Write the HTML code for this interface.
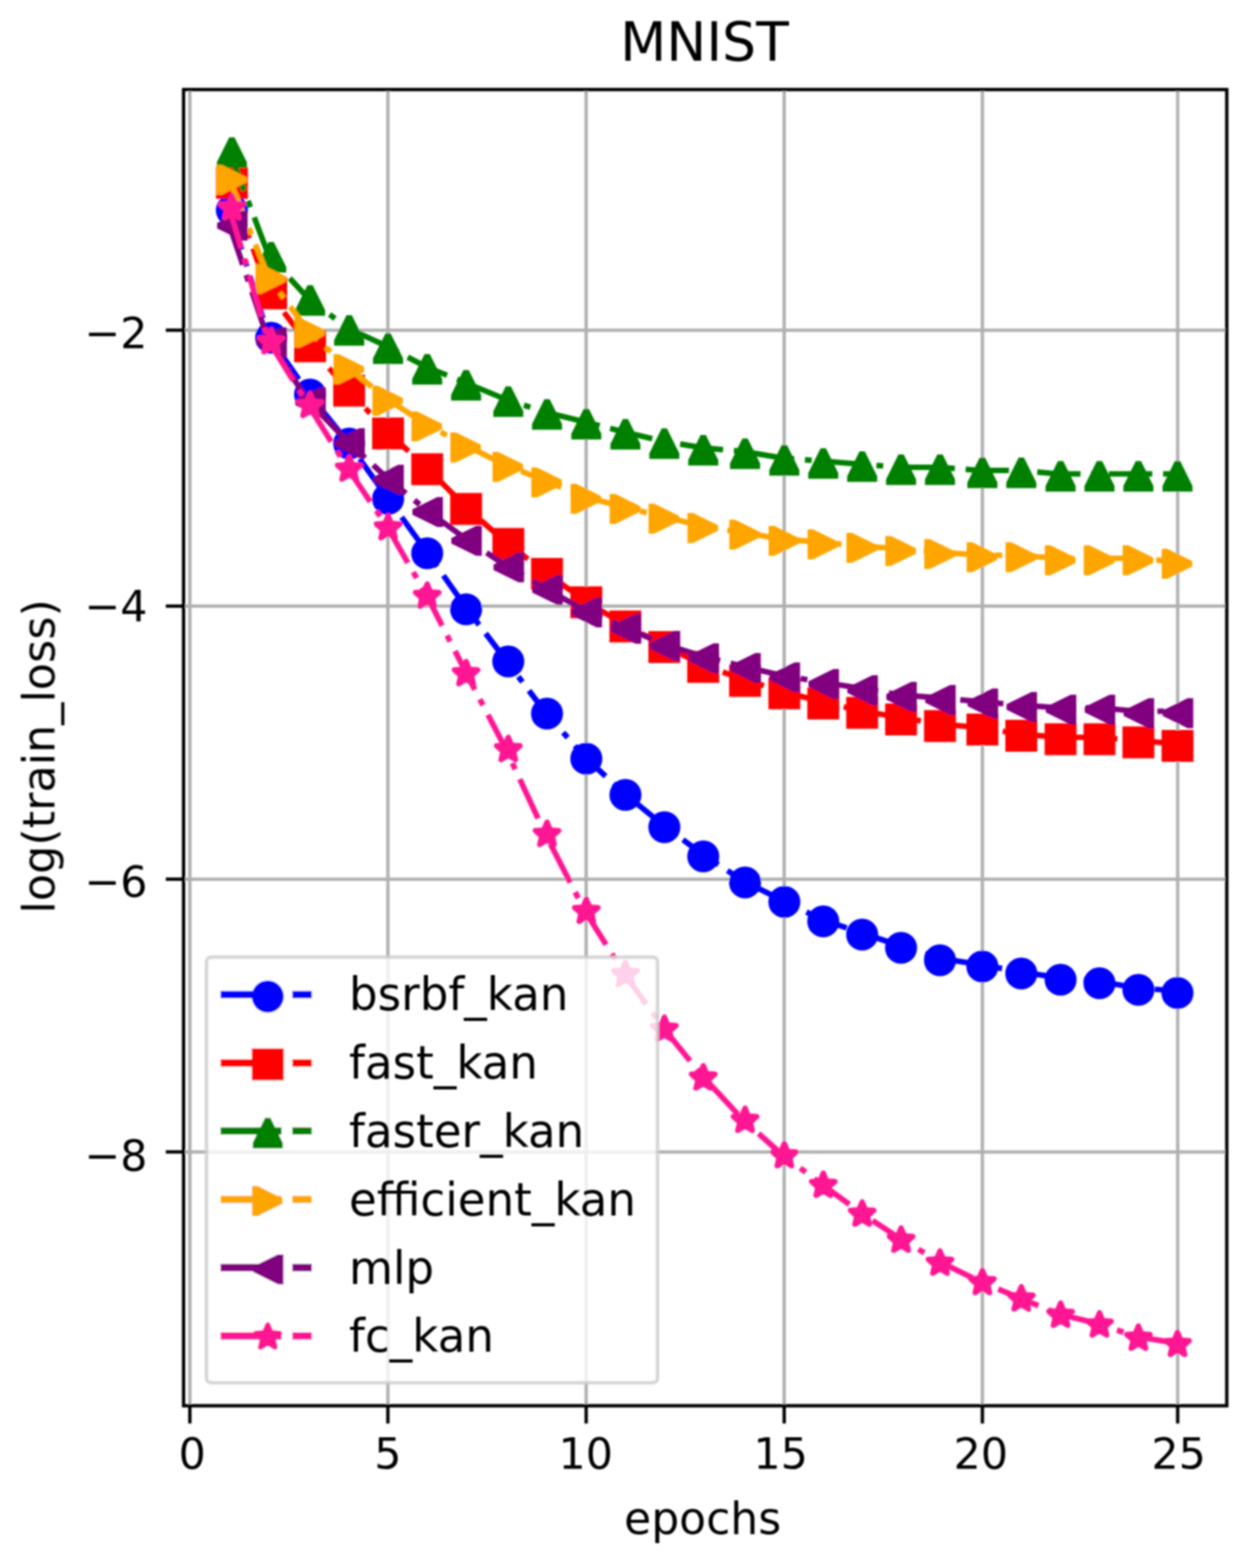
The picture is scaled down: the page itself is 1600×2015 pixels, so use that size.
<!DOCTYPE html>
<html lang="en">
<head>
<meta charset="utf-8">
<title>MNIST</title>
<style>
html,body{margin:0;padding:0;background:#fff;}
body{width:1600px;height:2015px;overflow:hidden;}
svg{display:block;}
text{font-family:"DejaVu Sans","Liberation Sans",sans-serif;fill:#000;}
.tk{font-size:55px;}
.al{font-size:56.6px;}
.yl{font-size:57.2px;}
.lg{font-size:58px;}
.ti{font-size:68.8px;}
</style>
</head>
<body>
<svg width="1600" height="2015" viewBox="0 0 1600 2015">
<defs>
<filter id="soft" x="-2%" y="-2%" width="104%" height="104%"><feGaussianBlur stdDeviation="1.1"/></filter>
<clipPath id="ax"><rect x="235.9" y="115.1" width="1340.7" height="1691.4"/></clipPath>
</defs>
<rect width="1600" height="2015" fill="#fff"/>
<g filter="url(#soft)">
<g stroke="#b0b0b0" stroke-width="4.3" fill="none">
<line x1="244" y1="115.1" x2="244" y2="1806.5"/>
<line x1="498.5" y1="115.1" x2="498.5" y2="1806.5"/>
<line x1="753.3" y1="115.1" x2="753.3" y2="1806.5"/>
<line x1="1007.8" y1="115.1" x2="1007.8" y2="1806.5"/>
<line x1="1262.5" y1="115.1" x2="1262.5" y2="1806.5"/>
<line x1="1513.5" y1="115.1" x2="1513.5" y2="1806.5"/>
<line x1="235.9" y1="424.3" x2="1576.6" y2="424.3"/>
<line x1="235.9" y1="778.9" x2="1576.6" y2="778.9"/>
<line x1="235.9" y1="1129.8" x2="1576.6" y2="1129.8"/>
<line x1="235.9" y1="1480.3" x2="1576.6" y2="1480.3"/>
</g>
<g clip-path="url(#ax)">
<polyline points="294.2,267.5 344.9,431.5 395.7,504.5 446.4,567.5 497.2,638.5 548,708.5 598.7,780.5 649.5,847.5 700.2,914.5 751,972.5 801.8,1019 852.5,1060.5 903.3,1098 954,1131.5 1004.8,1156.5 1055.6,1181.5 1106.3,1198.5 1157.1,1215.5 1207.8,1231.5 1258.6,1239.5 1309.4,1248.5 1360.1,1256.5 1410.9,1261 1461.6,1269.5 1512.4,1273.5" fill="none" stroke="#0000ff" stroke-width="7.2" stroke-dasharray="55.7 13.9 8.7 13.9" stroke-linejoin="round"/>
<g>
<circle cx="298" cy="270" r="20.6" fill="#0000ff"/>
<circle cx="348.5" cy="434" r="20.6" fill="#0000ff"/>
<circle cx="398.5" cy="507" r="20.6" fill="#0000ff"/>
<circle cx="448.8" cy="570" r="20.6" fill="#0000ff"/>
<circle cx="498.8" cy="641" r="20.6" fill="#0000ff"/>
<circle cx="549" cy="711" r="20.6" fill="#0000ff"/>
<circle cx="599" cy="783" r="20.6" fill="#0000ff"/>
<circle cx="653.2" cy="850" r="20.6" fill="#0000ff"/>
<circle cx="703" cy="917" r="20.6" fill="#0000ff"/>
<circle cx="753.5" cy="975" r="20.6" fill="#0000ff"/>
<circle cx="803.8" cy="1021.5" r="20.6" fill="#0000ff"/>
<circle cx="853.8" cy="1063" r="20.6" fill="#0000ff"/>
<circle cx="903.8" cy="1100.5" r="20.6" fill="#0000ff"/>
<circle cx="957.5" cy="1134" r="20.6" fill="#0000ff"/>
<circle cx="1008" cy="1159" r="20.6" fill="#0000ff"/>
<circle cx="1058" cy="1184" r="20.6" fill="#0000ff"/>
<circle cx="1108" cy="1201" r="20.6" fill="#0000ff"/>
<circle cx="1158" cy="1218" r="20.6" fill="#0000ff"/>
<circle cx="1208" cy="1234" r="20.6" fill="#0000ff"/>
<circle cx="1262.5" cy="1242" r="20.6" fill="#0000ff"/>
<circle cx="1312.5" cy="1251" r="20.6" fill="#0000ff"/>
<circle cx="1363" cy="1259" r="20.6" fill="#0000ff"/>
<circle cx="1413" cy="1263.5" r="20.6" fill="#0000ff"/>
<circle cx="1463" cy="1272" r="20.6" fill="#0000ff"/>
<circle cx="1513.2" cy="1276" r="20.6" fill="#0000ff"/>
</g>
<polyline points="294.2,232.5 344.9,374.5 395.7,442.5 446.4,499.5 497.2,554.5 548,600.5 598.7,651.5 649.5,696.5 700.2,735 751,771.5 801.8,802.5 852.5,829 903.3,854.5 954,872.5 1004.8,888.5 1055.6,901.5 1106.3,913.5 1157.1,922 1207.8,930.5 1258.6,935 1309.4,943 1360.1,947.5 1410.9,947.5 1461.6,951.5 1512.4,956" fill="none" stroke="#ff0000" stroke-width="7.2" stroke-dasharray="55.7 13.9 8.7 13.9" stroke-linejoin="round"/>
<g>
<rect x="277.5" y="214.5" width="41" height="41" fill="#ff0000"/>
<rect x="328" y="356.5" width="41" height="41" fill="#ff0000"/>
<rect x="378" y="424.5" width="41" height="41" fill="#ff0000"/>
<rect x="428.2" y="481.5" width="41" height="41" fill="#ff0000"/>
<rect x="478.2" y="536.5" width="41" height="41" fill="#ff0000"/>
<rect x="528.5" y="582.5" width="41" height="41" fill="#ff0000"/>
<rect x="578.5" y="633.5" width="41" height="41" fill="#ff0000"/>
<rect x="632.8" y="678.5" width="41" height="41" fill="#ff0000"/>
<rect x="682.5" y="717" width="41" height="41" fill="#ff0000"/>
<rect x="733" y="753.5" width="41" height="41" fill="#ff0000"/>
<rect x="783.2" y="784.5" width="41" height="41" fill="#ff0000"/>
<rect x="833.2" y="811" width="41" height="41" fill="#ff0000"/>
<rect x="883.2" y="836.5" width="41" height="41" fill="#ff0000"/>
<rect x="937" y="854.5" width="41" height="41" fill="#ff0000"/>
<rect x="987.5" y="870.5" width="41" height="41" fill="#ff0000"/>
<rect x="1037.5" y="883.5" width="41" height="41" fill="#ff0000"/>
<rect x="1087.5" y="895.5" width="41" height="41" fill="#ff0000"/>
<rect x="1137.5" y="904" width="41" height="41" fill="#ff0000"/>
<rect x="1187.5" y="912.5" width="41" height="41" fill="#ff0000"/>
<rect x="1242" y="917" width="41" height="41" fill="#ff0000"/>
<rect x="1292" y="925" width="41" height="41" fill="#ff0000"/>
<rect x="1342.5" y="929.5" width="41" height="41" fill="#ff0000"/>
<rect x="1392.5" y="929.5" width="41" height="41" fill="#ff0000"/>
<rect x="1442.5" y="933.5" width="41" height="41" fill="#ff0000"/>
<rect x="1492.8" y="938" width="41" height="41" fill="#ff0000"/>
</g>
<polyline points="294.2,193 344.9,327.5 395.7,383 446.4,421.5 497.2,445 548,471.5 598.7,492 649.5,513 700.2,529.5 751,542 801.8,555 852.5,567 903.3,575.5 954,580 1004.8,588.5 1055.6,592.5 1106.3,596.5 1157.1,600.5 1207.8,600.5 1258.6,604.5 1309.4,604.5 1360.1,609 1410.9,609 1461.6,609 1512.4,609" fill="none" stroke="#008000" stroke-width="7.2" stroke-dasharray="55.7 13.9 8.7 13.9" stroke-linejoin="round"/>
<g>
<polygon points="294.6,176.5 301.4,176.5 317.3,208.5 317.3,215.7 278.7,215.7 278.7,208.5" fill="#008000"/>
<polygon points="345.1,311 351.9,311 367.8,343 367.8,350.2 329.2,350.2 329.2,343" fill="#008000"/>
<polygon points="395.1,366.5 401.9,366.5 417.8,398.5 417.8,405.7 379.2,405.7 379.2,398.5" fill="#008000"/>
<polygon points="445.4,405 452.1,405 468.1,437 468.1,444.2 429.4,444.2 429.4,437" fill="#008000"/>
<polygon points="495.4,428.5 502.1,428.5 518,460.5 518,467.7 479.4,467.7 479.4,460.5" fill="#008000"/>
<polygon points="545.6,455 552.4,455 568.3,487 568.3,494.2 529.7,494.2 529.7,487" fill="#008000"/>
<polygon points="595.6,475.5 602.4,475.5 618.3,507.5 618.3,514.7 579.7,514.7 579.7,507.5" fill="#008000"/>
<polygon points="649.9,496.5 656.6,496.5 672.5,528.5 672.5,535.7 634,535.7 634,528.5" fill="#008000"/>
<polygon points="699.6,513 706.4,513 722.3,545 722.3,552.2 683.7,552.2 683.7,545" fill="#008000"/>
<polygon points="750.1,525.5 756.9,525.5 772.8,557.5 772.8,564.7 734.2,564.7 734.2,557.5" fill="#008000"/>
<polygon points="800.4,538.5 807.1,538.5 823,570.5 823,577.7 784.5,577.7 784.5,570.5" fill="#008000"/>
<polygon points="850.4,550.5 857.1,550.5 873,582.5 873,589.7 834.5,589.7 834.5,582.5" fill="#008000"/>
<polygon points="900.4,559 907.1,559 923,591 923,598.2 884.5,598.2 884.5,591" fill="#008000"/>
<polygon points="954.1,563.5 960.9,563.5 976.8,595.5 976.8,602.7 938.2,602.7 938.2,595.5" fill="#008000"/>
<polygon points="1004.6,572 1011.4,572 1027.3,604 1027.3,611.2 988.7,611.2 988.7,604" fill="#008000"/>
<polygon points="1054.6,576 1061.4,576 1077.3,608 1077.3,615.2 1038.7,615.2 1038.7,608" fill="#008000"/>
<polygon points="1104.6,580 1111.4,580 1127.3,612 1127.3,619.2 1088.7,619.2 1088.7,612" fill="#008000"/>
<polygon points="1154.6,584 1161.4,584 1177.3,616 1177.3,623.2 1138.7,623.2 1138.7,616" fill="#008000"/>
<polygon points="1204.6,584 1211.4,584 1227.3,616 1227.3,623.2 1188.7,623.2 1188.7,616" fill="#008000"/>
<polygon points="1259.1,588 1265.9,588 1281.8,620 1281.8,627.2 1243.2,627.2 1243.2,620" fill="#008000"/>
<polygon points="1309.1,588 1315.9,588 1331.8,620 1331.8,627.2 1293.2,627.2 1293.2,620" fill="#008000"/>
<polygon points="1359.6,592.5 1366.4,592.5 1382.3,624.5 1382.3,631.7 1343.7,631.7 1343.7,624.5" fill="#008000"/>
<polygon points="1409.6,592.5 1416.4,592.5 1432.3,624.5 1432.3,631.7 1393.7,631.7 1393.7,624.5" fill="#008000"/>
<polygon points="1459.6,592.5 1466.4,592.5 1482.3,624.5 1482.3,631.7 1443.7,631.7 1443.7,624.5" fill="#008000"/>
<polygon points="1509.8,592.5 1516.7,592.5 1532.5,624.5 1532.5,631.7 1494,631.7 1494,624.5" fill="#008000"/>
</g>
<polyline points="294.2,228.5 344.9,356 395.7,425 446.4,472 497.2,512.5 548,545.5 598.7,572.5 649.5,597.5 700.2,617.5 751,638.5 801.8,651.5 852.5,664 903.3,676 954,684.5 1004.8,692.5 1055.6,697 1106.3,701.5 1157.1,705.5 1207.8,709.5 1258.6,713.5 1309.4,713.5 1360.1,717.5 1410.9,717.5 1461.6,717.5 1512.4,722" fill="none" stroke="#ffa500" stroke-width="7.2" stroke-dasharray="55.7 13.9 8.7 13.9" stroke-linejoin="round"/>
<g>
<polygon points="317,227.6 317,234.4 285,250.3 277.8,250.3 277.8,211.7 285,211.7" fill="#ffa500"/>
<polygon points="367.5,355.1 367.5,361.9 335.5,377.8 328.3,377.8 328.3,339.2 335.5,339.2" fill="#ffa500"/>
<polygon points="417.5,424.1 417.5,430.9 385.5,446.8 378.3,446.8 378.3,408.2 385.5,408.2" fill="#ffa500"/>
<polygon points="467.8,471.1 467.8,477.9 435.8,493.8 428.6,493.8 428.6,455.2 435.8,455.2" fill="#ffa500"/>
<polygon points="517.8,511.6 517.8,518.4 485.8,534.3 478.6,534.3 478.6,495.7 485.8,495.7" fill="#ffa500"/>
<polygon points="568,544.6 568,551.4 536,567.3 528.8,567.3 528.8,528.7 536,528.7" fill="#ffa500"/>
<polygon points="618,571.6 618,578.4 586,594.3 578.8,594.3 578.8,555.7 586,555.7" fill="#ffa500"/>
<polygon points="672.2,596.6 672.2,603.4 640.2,619.3 633,619.3 633,580.7 640.2,580.7" fill="#ffa500"/>
<polygon points="722,616.6 722,623.4 690,639.3 682.8,639.3 682.8,600.7 690,600.7" fill="#ffa500"/>
<polygon points="772.5,637.6 772.5,644.4 740.5,660.3 733.3,660.3 733.3,621.7 740.5,621.7" fill="#ffa500"/>
<polygon points="822.8,650.6 822.8,657.4 790.8,673.3 783.5,673.3 783.5,634.7 790.8,634.7" fill="#ffa500"/>
<polygon points="872.8,663.1 872.8,669.9 840.8,685.8 833.5,685.8 833.5,647.2 840.8,647.2" fill="#ffa500"/>
<polygon points="922.8,675.1 922.8,681.9 890.8,697.8 883.5,697.8 883.5,659.2 890.8,659.2" fill="#ffa500"/>
<polygon points="976.5,683.6 976.5,690.4 944.5,706.3 937.3,706.3 937.3,667.7 944.5,667.7" fill="#ffa500"/>
<polygon points="1027,691.6 1027,698.4 995,714.3 987.8,714.3 987.8,675.7 995,675.7" fill="#ffa500"/>
<polygon points="1077,696.1 1077,702.9 1045,718.8 1037.8,718.8 1037.8,680.2 1045,680.2" fill="#ffa500"/>
<polygon points="1127,700.6 1127,707.4 1095,723.3 1087.8,723.3 1087.8,684.7 1095,684.7" fill="#ffa500"/>
<polygon points="1177,704.6 1177,711.4 1145,727.3 1137.8,727.3 1137.8,688.7 1145,688.7" fill="#ffa500"/>
<polygon points="1227,708.6 1227,715.4 1195,731.3 1187.8,731.3 1187.8,692.7 1195,692.7" fill="#ffa500"/>
<polygon points="1281.5,712.6 1281.5,719.4 1249.5,735.3 1242.3,735.3 1242.3,696.7 1249.5,696.7" fill="#ffa500"/>
<polygon points="1331.5,712.6 1331.5,719.4 1299.5,735.3 1292.3,735.3 1292.3,696.7 1299.5,696.7" fill="#ffa500"/>
<polygon points="1382,716.6 1382,723.4 1350,739.3 1342.8,739.3 1342.8,700.7 1350,700.7" fill="#ffa500"/>
<polygon points="1432,716.6 1432,723.4 1400,739.3 1392.8,739.3 1392.8,700.7 1400,700.7" fill="#ffa500"/>
<polygon points="1482,716.6 1482,723.4 1450,739.3 1442.8,739.3 1442.8,700.7 1450,700.7" fill="#ffa500"/>
<polygon points="1532.2,721.1 1532.2,727.9 1500.2,743.8 1493,743.8 1493,705.2 1500.2,705.2" fill="#ffa500"/>
</g>
<polyline points="294.2,287.5 344.9,437.5 395.7,514.5 446.4,567 497.2,614 548,655.5 598.7,692.5 649.5,726.5 700.2,755.5 751,784.5 801.8,805.5 852.5,827.5 903.3,843.5 954,856 1004.8,868 1055.6,876.5 1106.3,884.5 1157.1,893 1207.8,897 1258.6,901.5 1309.4,906 1360.1,909.5 1410.9,909.5 1461.6,914 1512.4,914" fill="none" stroke="#800080" stroke-width="7.2" stroke-dasharray="55.7 13.9 8.7 13.9" stroke-linejoin="round"/>
<g>
<polygon points="279,286.6 279,293.4 311,309.3 318.2,309.3 318.2,270.7 311,270.7" fill="#800080"/>
<polygon points="329.5,436.6 329.5,443.4 361.5,459.3 368.7,459.3 368.7,420.7 361.5,420.7" fill="#800080"/>
<polygon points="379.5,513.6 379.5,520.4 411.5,536.3 418.7,536.3 418.7,497.7 411.5,497.7" fill="#800080"/>
<polygon points="429.8,566.1 429.8,572.9 461.8,588.8 468.9,588.8 468.9,550.2 461.8,550.2" fill="#800080"/>
<polygon points="479.8,613.1 479.8,619.9 511.8,635.8 519,635.8 519,597.2 511.8,597.2" fill="#800080"/>
<polygon points="530,654.6 530,661.4 562,677.3 569.2,677.3 569.2,638.7 562,638.7" fill="#800080"/>
<polygon points="580,691.6 580,698.4 612,714.3 619.2,714.3 619.2,675.7 612,675.7" fill="#800080"/>
<polygon points="634.2,725.6 634.2,732.4 666.2,748.3 673.5,748.3 673.5,709.7 666.2,709.7" fill="#800080"/>
<polygon points="684,754.6 684,761.4 716,777.3 723.2,777.3 723.2,738.7 716,738.7" fill="#800080"/>
<polygon points="734.5,783.6 734.5,790.4 766.5,806.3 773.7,806.3 773.7,767.7 766.5,767.7" fill="#800080"/>
<polygon points="784.8,804.6 784.8,811.4 816.8,827.3 824,827.3 824,788.7 816.8,788.7" fill="#800080"/>
<polygon points="834.8,826.6 834.8,833.4 866.8,849.3 874,849.3 874,810.7 866.8,810.7" fill="#800080"/>
<polygon points="884.8,842.6 884.8,849.4 916.8,865.3 924,865.3 924,826.7 916.8,826.7" fill="#800080"/>
<polygon points="938.5,855.1 938.5,861.9 970.5,877.8 977.7,877.8 977.7,839.2 970.5,839.2" fill="#800080"/>
<polygon points="989,867.1 989,873.9 1021,889.8 1028.2,889.8 1028.2,851.2 1021,851.2" fill="#800080"/>
<polygon points="1039,875.6 1039,882.4 1071,898.3 1078.2,898.3 1078.2,859.7 1071,859.7" fill="#800080"/>
<polygon points="1089,883.6 1089,890.4 1121,906.3 1128.2,906.3 1128.2,867.7 1121,867.7" fill="#800080"/>
<polygon points="1139,892.1 1139,898.9 1171,914.8 1178.2,914.8 1178.2,876.2 1171,876.2" fill="#800080"/>
<polygon points="1189,896.1 1189,902.9 1221,918.8 1228.2,918.8 1228.2,880.2 1221,880.2" fill="#800080"/>
<polygon points="1243.5,900.6 1243.5,907.4 1275.5,923.3 1282.7,923.3 1282.7,884.7 1275.5,884.7" fill="#800080"/>
<polygon points="1293.5,905.1 1293.5,911.9 1325.5,927.8 1332.7,927.8 1332.7,889.2 1325.5,889.2" fill="#800080"/>
<polygon points="1344,908.6 1344,915.4 1376,931.3 1383.2,931.3 1383.2,892.7 1376,892.7" fill="#800080"/>
<polygon points="1394,908.6 1394,915.4 1426,931.3 1433.2,931.3 1433.2,892.7 1426,892.7" fill="#800080"/>
<polygon points="1444,913.1 1444,919.9 1476,935.8 1483.2,935.8 1483.2,897.2 1476,897.2" fill="#800080"/>
<polygon points="1494.2,913.1 1494.2,919.9 1526.2,935.8 1533.5,935.8 1533.5,897.2 1526.2,897.2" fill="#800080"/>
</g>
<polyline points="294.2,265.5 344.9,437.5 395.7,519.5 446.4,601 497.2,676.5 548,764.5 598.7,864 649.5,961.5 700.2,1070.5 751,1169.5 801.8,1250.5 852.5,1321 903.3,1383.5 954,1438 1004.8,1483.5 1055.6,1521.5 1106.3,1558.5 1157.1,1592 1207.8,1621.5 1258.6,1646.5 1309.4,1667.5 1360.1,1688.5 1410.9,1701 1461.6,1718 1512.4,1726" fill="none" stroke="#ff1493" stroke-width="7.2" stroke-dasharray="55.7 13.9 8.7 13.9" stroke-linejoin="round"/>
<g>
<polygon points="298,251.6 293.8,261.6 283,262.5 291.2,269.6 288.7,280.2 298,274.5 307.3,280.2 304.8,269.6 313,262.5 302.2,261.6" fill="#ff1493" stroke="#ff1493" stroke-width="6.8" stroke-linejoin="round"/>
<polygon points="348.5,423.6 344.3,433.6 333.5,434.5 341.7,441.6 339.2,452.2 348.5,446.5 357.8,452.2 355.3,441.6 363.5,434.5 352.7,433.6" fill="#ff1493" stroke="#ff1493" stroke-width="6.8" stroke-linejoin="round"/>
<polygon points="398.5,505.6 394.3,515.6 383.5,516.5 391.7,523.6 389.2,534.2 398.5,528.5 407.8,534.2 405.3,523.6 413.5,516.5 402.7,515.6" fill="#ff1493" stroke="#ff1493" stroke-width="6.8" stroke-linejoin="round"/>
<polygon points="448.8,587.1 444.6,597.1 433.7,598 442,605.1 439.5,615.7 448.8,610 458,615.7 455.5,605.1 463.8,598 452.9,597.1" fill="#ff1493" stroke="#ff1493" stroke-width="6.8" stroke-linejoin="round"/>
<polygon points="498.8,662.6 494.6,672.6 483.7,673.5 492,680.6 489.5,691.2 498.8,685.5 508,691.2 505.5,680.6 513.8,673.5 502.9,672.6" fill="#ff1493" stroke="#ff1493" stroke-width="6.8" stroke-linejoin="round"/>
<polygon points="549,750.6 544.8,760.6 534,761.5 542.2,768.6 539.7,779.2 549,773.5 558.3,779.2 555.8,768.6 564,761.5 553.2,760.6" fill="#ff1493" stroke="#ff1493" stroke-width="6.8" stroke-linejoin="round"/>
<polygon points="599,850.1 594.8,860.1 584,861 592.2,868.1 589.7,878.7 599,873 608.3,878.7 605.8,868.1 614,861 603.2,860.1" fill="#ff1493" stroke="#ff1493" stroke-width="6.8" stroke-linejoin="round"/>
<polygon points="653.2,947.6 649.1,957.6 638.2,958.5 646.5,965.6 644,976.2 653.2,970.5 662.5,976.2 660,965.6 668.3,958.5 657.4,957.6" fill="#ff1493" stroke="#ff1493" stroke-width="6.8" stroke-linejoin="round"/>
<polygon points="703,1056.6 698.8,1066.6 688,1067.5 696.2,1074.6 693.7,1085.2 703,1079.5 712.3,1085.2 709.8,1074.6 718,1067.5 707.2,1066.6" fill="#ff1493" stroke="#ff1493" stroke-width="6.8" stroke-linejoin="round"/>
<polygon points="753.5,1155.6 749.3,1165.6 738.5,1166.5 746.7,1173.6 744.2,1184.2 753.5,1178.5 762.8,1184.2 760.3,1173.6 768.5,1166.5 757.7,1165.6" fill="#ff1493" stroke="#ff1493" stroke-width="6.8" stroke-linejoin="round"/>
<polygon points="803.8,1236.6 799.6,1246.6 788.7,1247.5 797,1254.6 794.5,1265.2 803.8,1259.5 813,1265.2 810.5,1254.6 818.8,1247.5 807.9,1246.6" fill="#ff1493" stroke="#ff1493" stroke-width="6.8" stroke-linejoin="round"/>
<polygon points="853.8,1307.1 849.6,1317.1 838.7,1318 847,1325.1 844.5,1335.7 853.8,1330 863,1335.7 860.5,1325.1 868.8,1318 857.9,1317.1" fill="#ff1493" stroke="#ff1493" stroke-width="6.8" stroke-linejoin="round"/>
<polygon points="903.8,1369.6 899.6,1379.6 888.7,1380.5 897,1387.6 894.5,1398.2 903.8,1392.5 913,1398.2 910.5,1387.6 918.8,1380.5 907.9,1379.6" fill="#ff1493" stroke="#ff1493" stroke-width="6.8" stroke-linejoin="round"/>
<polygon points="957.5,1424.1 953.3,1434.1 942.5,1435 950.7,1442.1 948.2,1452.7 957.5,1447 966.8,1452.7 964.3,1442.1 972.5,1435 961.7,1434.1" fill="#ff1493" stroke="#ff1493" stroke-width="6.8" stroke-linejoin="round"/>
<polygon points="1008,1469.6 1003.8,1479.6 993,1480.5 1001.2,1487.6 998.7,1498.2 1008,1492.5 1017.3,1498.2 1014.8,1487.6 1023,1480.5 1012.2,1479.6" fill="#ff1493" stroke="#ff1493" stroke-width="6.8" stroke-linejoin="round"/>
<polygon points="1058,1507.6 1053.8,1517.6 1043,1518.5 1051.2,1525.6 1048.7,1536.2 1058,1530.5 1067.3,1536.2 1064.8,1525.6 1073,1518.5 1062.2,1517.6" fill="#ff1493" stroke="#ff1493" stroke-width="6.8" stroke-linejoin="round"/>
<polygon points="1108,1544.6 1103.8,1554.6 1093,1555.5 1101.2,1562.6 1098.7,1573.2 1108,1567.5 1117.3,1573.2 1114.8,1562.6 1123,1555.5 1112.2,1554.6" fill="#ff1493" stroke="#ff1493" stroke-width="6.8" stroke-linejoin="round"/>
<polygon points="1158,1578.1 1153.8,1588.1 1143,1589 1151.2,1596.1 1148.7,1606.7 1158,1601 1167.3,1606.7 1164.8,1596.1 1173,1589 1162.2,1588.1" fill="#ff1493" stroke="#ff1493" stroke-width="6.8" stroke-linejoin="round"/>
<polygon points="1208,1607.6 1203.8,1617.6 1193,1618.5 1201.2,1625.6 1198.7,1636.2 1208,1630.5 1217.3,1636.2 1214.8,1625.6 1223,1618.5 1212.2,1617.6" fill="#ff1493" stroke="#ff1493" stroke-width="6.8" stroke-linejoin="round"/>
<polygon points="1262.5,1632.6 1258.3,1642.6 1247.5,1643.5 1255.7,1650.6 1253.2,1661.2 1262.5,1655.5 1271.8,1661.2 1269.3,1650.6 1277.5,1643.5 1266.7,1642.6" fill="#ff1493" stroke="#ff1493" stroke-width="6.8" stroke-linejoin="round"/>
<polygon points="1312.5,1653.6 1308.3,1663.6 1297.5,1664.5 1305.7,1671.6 1303.2,1682.2 1312.5,1676.5 1321.8,1682.2 1319.3,1671.6 1327.5,1664.5 1316.7,1663.6" fill="#ff1493" stroke="#ff1493" stroke-width="6.8" stroke-linejoin="round"/>
<polygon points="1363,1674.6 1358.8,1684.6 1348,1685.5 1356.2,1692.6 1353.7,1703.2 1363,1697.5 1372.3,1703.2 1369.8,1692.6 1378,1685.5 1367.2,1684.6" fill="#ff1493" stroke="#ff1493" stroke-width="6.8" stroke-linejoin="round"/>
<polygon points="1413,1687.1 1408.8,1697.1 1398,1698 1406.2,1705.1 1403.7,1715.7 1413,1710 1422.3,1715.7 1419.8,1705.1 1428,1698 1417.2,1697.1" fill="#ff1493" stroke="#ff1493" stroke-width="6.8" stroke-linejoin="round"/>
<polygon points="1463,1704.1 1458.8,1714.1 1448,1715 1456.2,1722.1 1453.7,1732.7 1463,1727 1472.3,1732.7 1469.8,1722.1 1478,1715 1467.2,1714.1" fill="#ff1493" stroke="#ff1493" stroke-width="6.8" stroke-linejoin="round"/>
<polygon points="1513.2,1712.1 1509.1,1722.1 1498.2,1723 1506.5,1730.1 1504,1740.7 1513.2,1735 1522.5,1740.7 1520,1730.1 1528.3,1723 1517.4,1722.1" fill="#ff1493" stroke="#ff1493" stroke-width="6.8" stroke-linejoin="round"/>
</g>
</g>
<rect x="235.9" y="115.1" width="1340.7" height="1691.4" fill="none" stroke="#000" stroke-width="4.3"/>
<g stroke="#000" stroke-width="4.3">
<line x1="244" y1="1806.5" x2="244" y2="1829.3"/>
<line x1="498.5" y1="1806.5" x2="498.5" y2="1829.3"/>
<line x1="753.3" y1="1806.5" x2="753.3" y2="1829.3"/>
<line x1="1007.8" y1="1806.5" x2="1007.8" y2="1829.3"/>
<line x1="1262.5" y1="1806.5" x2="1262.5" y2="1829.3"/>
<line x1="1513.5" y1="1806.5" x2="1513.5" y2="1829.3"/>
<line x1="213.1" y1="424.3" x2="235.9" y2="424.3"/>
<line x1="213.1" y1="778.9" x2="235.9" y2="778.9"/>
<line x1="213.1" y1="1129.8" x2="235.9" y2="1129.8"/>
<line x1="213.1" y1="1480.3" x2="235.9" y2="1480.3"/>
</g>
<rect x="265.4" y="1230" width="579.6" height="547" rx="6" ry="6" fill="#fff" fill-opacity="0.8" stroke="#ccc" stroke-opacity="0.8" stroke-width="4.6"/>
<line x1="283.5" y1="1278.1" x2="400.6" y2="1278.1" stroke="#0000ff" stroke-width="9.4" stroke-dasharray="55.7 13.9 8.7 13.9"/>
<circle cx="344.1" cy="1280.6" r="20.6" fill="#0000ff"/>
<line x1="283.5" y1="1366" x2="400.6" y2="1366" stroke="#ff0000" stroke-width="9.4" stroke-dasharray="55.7 13.9 8.7 13.9"/>
<rect x="323.6" y="1347.3" width="41" height="41" fill="#ff0000"/>
<line x1="283.5" y1="1453.4" x2="400.6" y2="1453.4" stroke="#008000" stroke-width="9.4" stroke-dasharray="55.7 13.9 8.7 13.9"/>
<polygon points="340.7,1436.6 347.5,1436.6 363.4,1468.6 363.4,1475.8 324.8,1475.8 324.8,1468.6" fill="#008000"/>
<line x1="283.5" y1="1541.4" x2="400.6" y2="1541.4" stroke="#ffa500" stroke-width="9.4" stroke-dasharray="55.7 13.9 8.7 13.9"/>
<polygon points="363.1,1540 363.1,1546.8 331.1,1562.7 323.9,1562.7 323.9,1524.1 331.1,1524.1" fill="#ffa500"/>
<line x1="283.5" y1="1629" x2="400.6" y2="1629" stroke="#800080" stroke-width="9.4" stroke-dasharray="55.7 13.9 8.7 13.9"/>
<polygon points="325.1,1627.8 325.1,1634.6 357.1,1650.5 364.3,1650.5 364.3,1611.9 357.1,1611.9" fill="#800080"/>
<line x1="283.5" y1="1716.8" x2="400.6" y2="1716.8" stroke="#ff1493" stroke-width="9.4" stroke-dasharray="55.7 13.9 8.7 13.9"/>
<polygon points="344.1,1702.6 339.9,1712.6 329.1,1713.5 337.3,1720.6 334.8,1731.2 344.1,1725.5 353.4,1731.2 350.9,1720.6 359.1,1713.5 348.3,1712.6" fill="#ff1493" stroke="#ff1493" stroke-width="6.8" stroke-linejoin="round"/>
</g>
<g filter="url(#soft)">
<text class="ti" x="905.3" y="78" text-anchor="middle">MNIST</text>
<text class="tk" x="247" y="1887" text-anchor="middle">0</text>
<text class="tk" x="498.5" y="1887" text-anchor="middle">5</text>
<text class="tk" x="752.7" y="1887" text-anchor="middle">10</text>
<text class="tk" x="1003.2" y="1887" text-anchor="middle">15</text>
<text class="tk" x="1260.5" y="1887" text-anchor="middle">20</text>
<text class="tk" x="1514.7" y="1887" text-anchor="middle">25</text>
<text class="tk" x="189.5" y="446.5" text-anchor="end">−2</text>
<text class="tk" x="189.5" y="797.5" text-anchor="end">−4</text>
<text class="tk" x="189.5" y="1152" text-anchor="end">−6</text>
<text class="tk" x="189.5" y="1503.7" text-anchor="end">−8</text>
<text class="al" x="903" y="1970.5" text-anchor="middle">epochs</text>
<text class="yl" transform="translate(69.7,972) rotate(-90)" text-anchor="middle">log(train_loss)</text>
<text class="lg" x="448.5" y="1298">bsrbf_kan</text>
<text class="lg" x="448.5" y="1386">fast_kan</text>
<text class="lg" x="448.5" y="1474">faster_kan</text>
<text class="lg" x="448.5" y="1562">efficient_kan</text>
<text class="lg" x="448.5" y="1650">mlp</text>
<text class="lg" x="448.5" y="1737">fc_kan</text>
</g>
</svg>
</body>
</html>
